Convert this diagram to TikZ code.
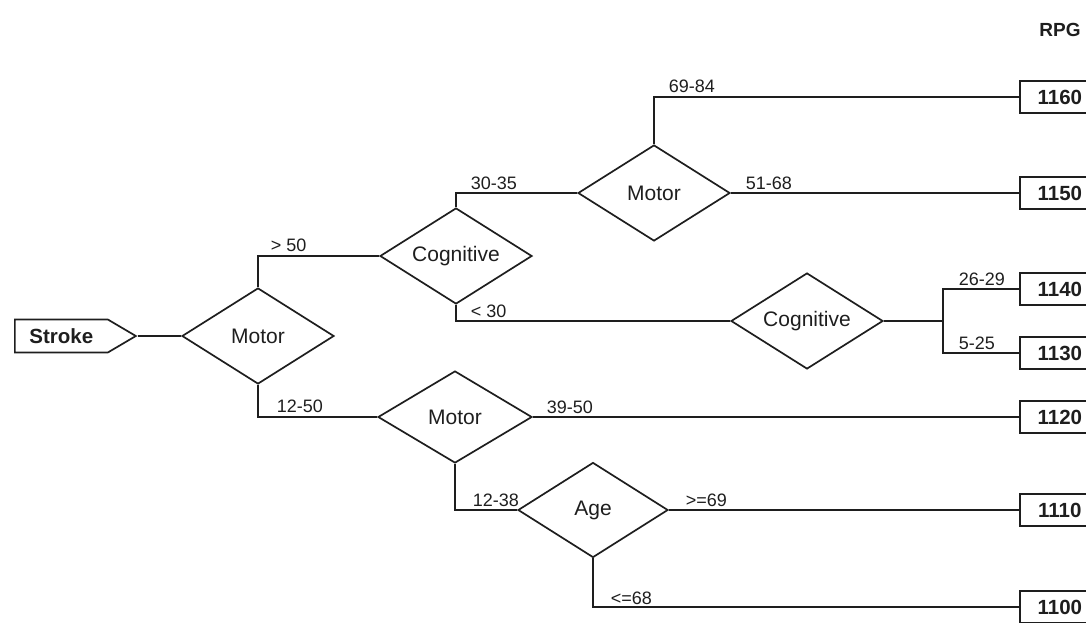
\documentclass[tikz,border=0pt]{standalone}
\usepackage{fontspec}
\setmainfont{Liberation Sans}
\usetikzlibrary{shapes.geometric,shapes.symbols}
\definecolor{ink}{HTML}{1E1E1E}
\begin{document}
\begin{tikzpicture}[x=1pt,y=-1pt,
  line width=1.7pt,
  color=ink,
  dia/.style={shape=diamond,draw=ink,line width=1.7pt,aspect=1.58,inner sep=0pt,
     minimum width=152pt,minimum height=96pt,text=ink,font=\fontsize{21}{23}\selectfont},
  outbox/.style={rectangle,draw=ink,line width=1.7pt,anchor=west,minimum width=80pt,
     minimum height=32pt,inner sep=0pt,font=\fontsize{20.5}{22}\selectfont\bfseries,text=ink},
  elab/.style={anchor=base west,inner sep=0pt,font=\fontsize{18}{20}\selectfont,text=ink},
  conn/.style={draw=ink,line width=1.7pt}
]
\useasboundingbox (0,0) rectangle (1086,623);
\clip (0,0) rectangle (1086,623);

% start node
\node[shape=signal,signal to=east,signal pointer angle=61,draw=ink,line width=1.7pt,
      minimum width=121pt,minimum height=33pt,inner sep=0pt,
      font=\fontsize{20.5}{22}\selectfont\bfseries,text=ink,anchor=west] (stroke) at (14,336) {Stroke\hspace{22pt}};

% decision nodes
\node[dia] (m1) at (258,336) {Motor};
\node[dia] (c1) at (456,256) {Cognitive};
\node[dia] (m2) at (654,193) {Motor};
\node[dia] (c2) at (807,321) {Cognitive};
\node[dia,minimum width=154pt,minimum height=92pt] (m3) at (455,417) {Motor};
\node[dia,minimum width=150pt,minimum height=95pt] (age) at (593,510) {Age};

% result boxes
\node[outbox] (r1160) at (1019,97) {1160};
\node[outbox] (r1150) at (1019,193) {1150};
\node[outbox] (r1140) at (1019,289) {1140};
\node[outbox] (r1130) at (1019,353) {1130};
\node[outbox] (r1120) at (1019,417) {1120};
\node[outbox] (r1110) at (1019,510) {1110};
\node[outbox] (r1100) at (1019,607) {1100};

\node[font=\fontsize{19}{21}\selectfont\bfseries,text=ink,inner sep=0pt] (rpg) at (1060,30) {RPG};

\coordinate (split) at (943,321);

% connectors
\draw[conn] (stroke.east) -- (m1.west);
\draw[conn] (m1.north) |- (c1.west);
\draw[conn] (c1.north) |- (m2.west);
\draw[conn] (m2.north) |- (r1160.west);
\draw[conn] (m2.east) -- (r1150.west);
\draw[conn] (c1.south) |- (c2.west);
\draw[conn] (c2.east) -- (split);
\draw[conn] (split) |- (r1140.west);
\draw[conn] (split) |- (r1130.west);
\draw[conn] (m1.south) |- (m3.west);
\draw[conn] (m3.east) -- (r1120.west);
\draw[conn] (m3.south) |- (age.west);
\draw[conn] (age.east) -- (r1110.west);
\draw[conn] (age.south) |- (r1100.west);

% edge labels
\node[elab] (l1) at (270,251) {> 50};
\node[elab] (l2) at (470,189) {30-35};
\node[elab] (l3) at (668,93) {69-84};
\node[elab] (l4) at (745,189) {51-68};
\node[elab] (l5) at (470,317) {< 30};
\node[elab] (l6) at (958,285) {26-29};
\node[elab] (l7) at (958,349) {5-25};
\node[elab] (l8) at (276,412) {12-50};
\node[elab] (l9) at (546,413) {39-50};
\node[elab] (l10) at (472,506) {12-38};
\node[elab] (l11) at (685,506) {>=69};
\node[elab] (l12) at (610,604) {<=68};
\end{tikzpicture}
\end{document}
